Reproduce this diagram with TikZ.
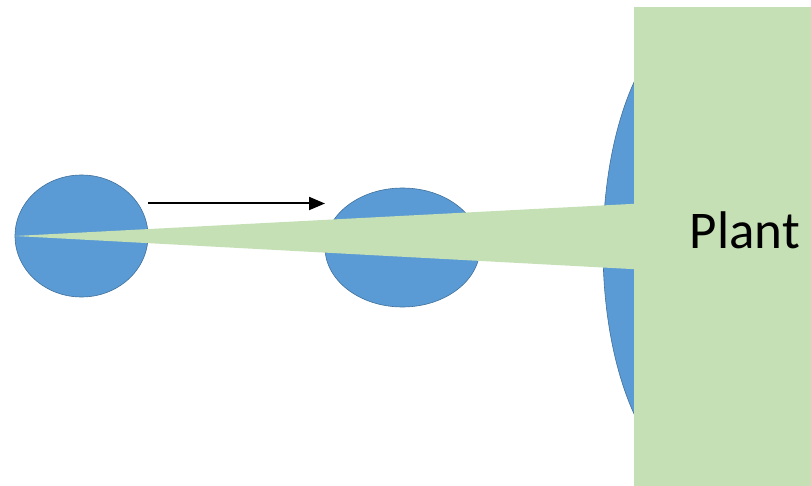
\documentclass[tikz,border=0pt]{standalone}
\usepackage{fontspec}
\setmainfont{Carlito}
\usetikzlibrary{shapes.geometric,arrows.meta}
\definecolor{blobblue}{HTML}{5B9BD5}
\definecolor{blobedge}{HTML}{41719C}
\definecolor{plantgreen}{HTML}{C5E0B4}
\begin{document}
\begin{tikzpicture}[x=1pt,y=-1pt,
  blob/.style={ellipse,fill=blobblue,draw=blobedge,line width=0.6pt,inner sep=0pt},
  greenfill/.style={fill=plantgreen,draw=none}]
\useasboundingbox[fill=white] (0,0) rectangle (811,486);
% small blobs
\node[blob,minimum width=133pt,minimum height=122pt] (b1) at (81.5,236) {};
\node[blob,minimum width=155pt,minimum height=119pt] (b2) at (402.5,247.5) {};
% big blob (mostly hidden)
\node[blob,minimum width=202pt,minimum height=460pt] (b3) at (704,248) {};
% wedge
\coordinate (tip) at (15,236);
\coordinate (wt) at (640,203.5);
\coordinate (wb) at (640,269.5);
\fill[plantgreen] (tip) -- (wt) -- (wb) -- cycle;
% plant rectangle
\node[greenfill,rectangle,anchor=north west,minimum width=177pt,minimum height=479pt,inner sep=0pt] (plant) at (634,7) {};
\node[anchor=base,inner sep=0pt,font=\fontsize{53}{60}\selectfont] (lbl) at (745,248.5) {Plant};
% arrow
\coordinate (a1) at (148,203.5);
\coordinate (a2) at (325,203.5);
\draw[-{Triangle[length=16pt,width=13pt]},line width=2pt] (a1) -- (a2);
\end{tikzpicture}
\end{document}
